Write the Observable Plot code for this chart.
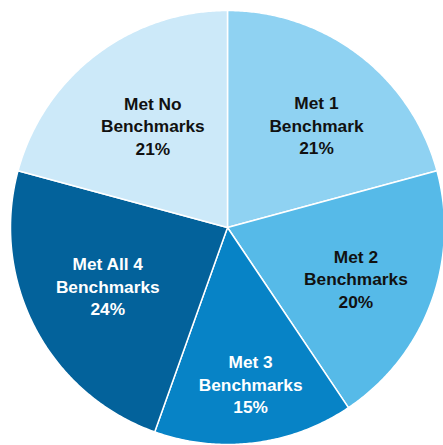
<!DOCTYPE html>
<html>
<head>
<meta charset="utf-8">
<script src="https://cdn.jsdelivr.net/npm/d3@7"></script>
<script src="https://cdn.jsdelivr.net/npm/@observablehq/plot@0.6"></script>
<style>
  html, body { margin: 0; padding: 0; background: #fff; }
  #chart svg { display: block; }
</style>
</head>
<body>
<div id="chart"></div>
<script>
// Data
const categories = ["Met 1 Benchmark", "Met 2 Benchmarks", "Met 3 Benchmarks", "Met All 4 Benchmarks", "Met No Benchmarks"];
const labelLines = [["Met 1", "Benchmark"], ["Met 2", "Benchmarks"], ["Met 3", "Benchmarks"], ["Met All 4", "Benchmarks"], ["Met No", "Benchmarks"]];
const percents = [21, 20, 15, 24, 21];
const colors = ["#8fd2f2", "#56bae8", "#0783c6", "#03629b", "#cce9f9"];

// Layout
const W = 443, H = 445, CX = 227, CY = 227, R = 217;
const darkText = new Set(["Met 3 Benchmarks", "Met All 4 Benchmarks"]);
// label placement tweaks: radius fraction and angle shift (degrees) from the slice mid-angle
const labelPlace = {
  "Met 1 Benchmark": {r: 0.627, da: 3.4},
  "Met 2 Benchmarks": {r: 0.636, da: 1.0},
  "Met 3 Benchmarks": {r: 0.728, da: -1.3},
  "Met All 4 Benchmarks": {r: 0.613, da: 1.8},
  "Met No Benchmarks": {r: 0.585, da: 1.4}
};

const pie = d3.pie().sort(null).value(d => d.value).startAngle(0).endAngle(2 * Math.PI);
const rows = categories.map((c, i) => ({category: c, value: percents[i], lines: labelLines[i]}));
const arcs = pie(rows);

// polygon points for each slice (unit circle, y up), angle clockwise from top
const pts = [];
for (const a of arcs) {
  const cat = a.data.category;
  pts.push({category: cat, x: 0, y: 0});
  const n = Math.max(2, Math.ceil((a.endAngle - a.startAngle) / (Math.PI / 360)));
  for (let k = 0; k <= n; k++) {
    const t = a.startAngle + (a.endAngle - a.startAngle) * k / n;
    pts.push({category: cat, x: Math.sin(t), y: Math.cos(t)});
  }
  pts.push({category: cat, x: 0, y: 0});
}

const labels = arcs.map(a => {
  const p = labelPlace[a.data.category];
  const m = (a.startAngle + a.endAngle) / 2 + p.da * Math.PI / 180;
  return {
    category: a.data.category,
    x: p.r * Math.sin(m),
    y: p.r * Math.cos(m),
    text: a.data.lines.join("\n") + "\n" + a.data.value + "%",
    dark: darkText.has(a.data.category)
  };
});

const textOpts = {
  x: "x", y: "y", text: "text",
  fontSize: 17.3, fontWeight: "bold", lineHeight: 1.3,
  fontFamily: "'Liberation Sans', Arial, Helvetica, sans-serif",
  textAnchor: "middle", lineAnchor: "middle"
};

const chart = Plot.plot({
  width: W, height: H,
  marginTop: 0, marginRight: 0, marginBottom: 0, marginLeft: 0,
  x: {domain: [-CX / R, (W - CX) / R], axis: null},
  y: {domain: [(CY - H) / R, CY / R], axis: null},
  color: {domain: categories, range: colors},
  style: {background: "#fff"},
  marks: [
    Plot.line(pts, {x: "x", y: "y", z: "category", fill: "category", stroke: "#fff", strokeWidth: 1.5, curve: "linear", strokeLinejoin: "round"}),
    Plot.text(labels.filter(d => !d.dark), {...textOpts, fill: "#111"}),
    Plot.text(labels.filter(d => d.dark), {...textOpts, fill: "#fff"})
  ]
});
document.getElementById("chart").appendChild(chart);
</script>
</body>
</html>
